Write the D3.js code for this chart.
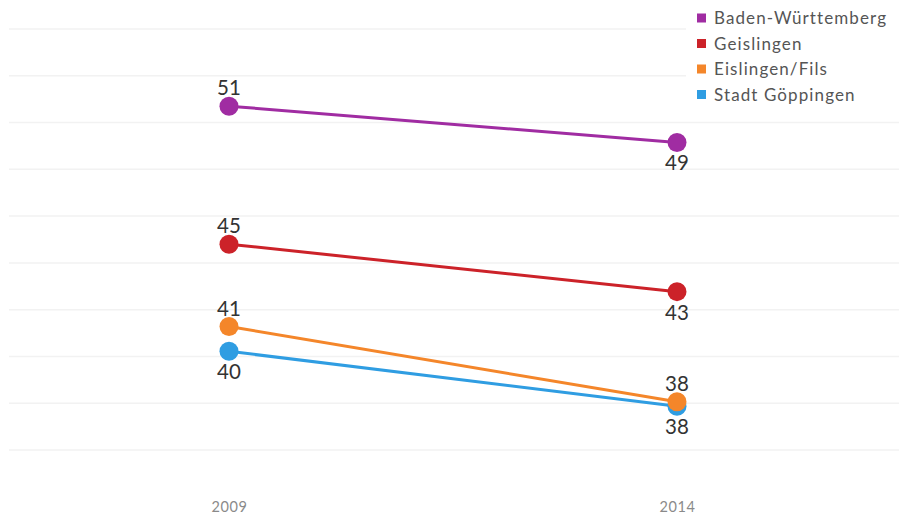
<!DOCTYPE html>
<html>
<head>
<meta charset="utf-8">
<script src="https://cdn.jsdelivr.net/npm/d3@7"></script>
<style>
  html, body { margin: 0; padding: 0; background: #ffffff; }
  svg { display: block; }
</style>
</head>
<body>
<svg id="chart" width="899" height="520"></svg>
<script>
// ---- data ----
const years = [2009, 2014];
const seriesNames = ["Baden-Württemberg", "Geislingen", "Eislingen/Fils", "Stadt Göppingen"];
const badenWuerttemberg = [50.7, 49.15];
const geislingen = [44.8, 42.77];
const eislingen = [41.28, 38.06];
const goeppingen = [40.22, 37.87];
const valueLabels = [["51", "49"], ["45", "43"], ["41", "38"], ["40", "38"]];
const gridTicks = [36, 38, 40, 42, 44, 46, 48, 50, 52, 54];
const colors = ["#a02ca2", "#cc2229", "#f4862a", "#2f9de2"];
// label placement: "above" / "below" per point
const labelPos = [["above", "below"], ["above", "below"], ["above", "above"], ["below", "below"]];

const seriesValues = [badenWuerttemberg, geislingen, eislingen, goeppingen];

const svg = d3.select("#chart");
const x = d3.scaleLinear().domain([2009, 2014]).range([229, 677]);
const y = d3.scaleLinear().domain([36, 54]).range([450, 29]);

// gridlines
svg.append("g").selectAll("line").data(gridTicks).join("line")
  .attr("x1", 9).attr("x2", 899)
  .attr("y1", d => y(d)).attr("y2", d => y(d))
  .attr("stroke", "#f2f2f2").attr("stroke-width", 1.5);

// x axis labels
const xAxis = d3.axisBottom(x).tickValues(years).tickFormat(d3.format("d")).tickSize(0).tickPadding(0);
const gx = svg.append("g").attr("transform", "translate(0,502)").call(xAxis);
gx.select(".domain").remove();
gx.selectAll("text")
  .attr("font-family", "Lato, 'Open Sans', sans-serif")
  .attr("font-size", 14.5).attr("fill", "#8a8a8a")
  .attr("letter-spacing", 0.6);

// legend background (covers gridlines on the right top)
svg.append("rect").attr("x", 686).attr("y", 0).attr("width", 213).attr("height", 108).attr("fill", "#ffffff");

const series = seriesNames.map((name, i) => ({
  name, color: colors[i],
  points: years.map((yr, j) => ({ year: yr, value: seriesValues[i][j], label: valueLabels[i][j], pos: labelPos[i][j] }))
}));

const line = d3.line().x(d => x(d.year)).y(d => y(d.value));

const drawOrder = [3, 2, 1, 0];
drawOrder.forEach(i => {
  const s = series[i];
  const g = svg.append("g");
  g.append("path").datum(s.points).attr("d", line)
    .attr("fill", "none").attr("stroke", s.color).attr("stroke-width", 3);
  g.selectAll("circle").data(s.points).join("circle")
    .attr("cx", d => x(d.year)).attr("cy", d => y(d.value)).attr("r", 9.5)
    .attr("fill", s.color);
});

drawOrder.forEach(i => {
  const s = series[i];
  svg.append("g").selectAll("text").data(s.points).join("text")
    .attr("x", d => x(d.year))
    .attr("y", d => y(d.value) + (d.pos === "above" ? -11 : 28))
    .attr("text-anchor", "middle")
    .attr("font-family", "Lato, 'Open Sans', sans-serif")
    .attr("font-size", 20.5).attr("fill", "#333333")
    .text(d => d.label);
});

// legend
const lg = svg.append("g");
series.forEach((s, i) => {
  const cy = 18 + i * 25.5;
  lg.append("rect").attr("x", 697).attr("y", cy - 4.5).attr("width", 9).attr("height", 9).attr("fill", s.color);
  lg.append("text").attr("x", 714).attr("y", cy + 6)
    .attr("font-family", "Lato, 'Open Sans', sans-serif")
    .attr("font-size", 17).attr("fill", "#555555")
    .attr("letter-spacing", 1.1)
    .text(s.name);
});
</script>
</body>
</html>
